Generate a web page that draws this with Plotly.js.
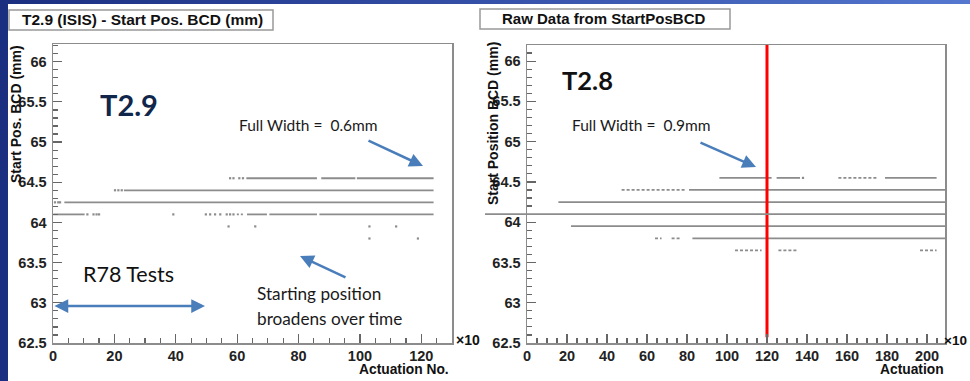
<!DOCTYPE html>
<html><head><meta charset="utf-8">
<script src="https://cdn.plot.ly/plotly-3.0.1.min.js"></script>
<style>
html,body{margin:0;padding:0;width:970px;height:381px;overflow:hidden;background:linear-gradient(to right,#1b2f80 0%,#3550a8 50%,#5577cf 100%);}
#plot{position:absolute;left:8px;top:4px;width:962px;height:377px;background:#fff;}
</style></head><body><div id="plot"></div>
<script>
// ---------- data: left plot (T2.9, Actuation No. x10^3) ----------
const leftSolidY  = [64.1, 64.1, 64.1, 64.1, 64.25, 64.4, 64.55, 64.55, 64.55];
const leftSolidX0 = [0.1, 63.2, 70.5, 86.8, 3.7, 23.1, 63.0, 87.4, 99.0];
const leftSolidX1 = [10.3, 69.7, 86.0, 124.0, 124.0, 124.0, 86.0, 98.5, 124.0];
const leftSparseY  = [64.1];
const leftSparseX0 = [59.9];
const leftSparseX1 = [62.0];
const leftDotX = [11.2, 13.2, 14.2, 15.0, 39.2, 49.8, 51.2, 52.8, 54.5, 56.6, 57.7, 58.8,
                  0.65, 1.7, 2.3, 20.2, 21.3, 22.4, 57.7, 58.8, 60.7, 61.9,
                  57.2, 65.9, 103.1, 111.8, 103.1, 118.9];
const leftDotY = [64.1, 64.1, 64.1, 64.1, 64.1, 64.1, 64.1, 64.1, 64.1, 64.1, 64.1, 64.1,
                  64.25, 64.25, 64.25, 64.4, 64.4, 64.4, 64.55, 64.55, 64.55, 64.55,
                  63.95, 63.95, 63.95, 63.95, 63.8, 63.8];

// ---------- data: right plot (T2.8, Actuation x10^3) ----------
const rightSolidY  = [64.55, 64.55, 64.55, 64.4, 64.25, 63.95, 63.8];
const rightSolidX0 = [96.2, 124.8, 179.0, 81.0, 15.7, 22.0, 82.7];
const rightSolidX1 = [122.3, 136.5, 204.8, 209.0, 209.0, 209.0, 209.0];
const rightLongY  = [64.1];
const rightLongX0 = [-21];
const rightLongX1 = [209];
const rightSparseY  = [64.55, 64.4, 63.8, 63.8, 63.65, 63.65, 63.65];
const rightSparseX0 = [155.7, 47.3, 64.0, 72.3, 104.0, 125.7, 196.5];
const rightSparseX1 = [175.7, 79.8, 67.3, 77.3, 117.3, 134.8, 204.8];
const rightDotX = [138.0];
const rightDotY = [64.55];
const markerX = [120, 120];
const markerY = [62.57, 66.2];

// ---------- helpers ----------
function segs(ys, x0s, x1s) {
  const x = [], y = [];
  for (let i = 0; i < ys.length; i++) { x.push(x0s[i], x1s[i], null); y.push(ys[i], ys[i], null); }
  return {x, y};
}
const PX = v => (v - 8) / 962;
const PY = v => 1 - (v - 4) / 377;
const GRAY = '#8c8c8c';

const ls = segs(leftSolidY, leftSolidX0, leftSolidX1);
const lsp = segs(leftSparseY, leftSparseX0, leftSparseX1);
const rs = segs(rightSolidY, rightSolidX0, rightSolidX1);
const rl = segs(rightLongY, rightLongX0, rightLongX1);
const rsp = segs(rightSparseY, rightSparseX0, rightSparseX1);

const traces = [
  {x: ls.x, y: ls.y, xaxis: 'x', yaxis: 'y', mode: 'lines', line: {color: GRAY, width: 1.8}, hoverinfo: 'skip'},
  {x: lsp.x, y: lsp.y, xaxis: 'x', yaxis: 'y', mode: 'lines', line: {color: GRAY, width: 1.8, dash: '2px,2px'}, hoverinfo: 'skip'},
  {x: leftDotX, y: leftDotY, xaxis: 'x', yaxis: 'y', mode: 'markers', marker: {color: GRAY, size: 2.2, symbol: 'square'}, hoverinfo: 'skip'},
  {x: rs.x, y: rs.y, xaxis: 'x2', yaxis: 'y2', mode: 'lines', line: {color: GRAY, width: 1.8}, hoverinfo: 'skip'},
  {x: rsp.x, y: rsp.y, xaxis: 'x2', yaxis: 'y2', mode: 'lines', line: {color: GRAY, width: 1.8, dash: '3px,2px'}, hoverinfo: 'skip'},
  {x: rightDotX, y: rightDotY, xaxis: 'x2', yaxis: 'y2', mode: 'markers', marker: {color: GRAY, size: 2.2, symbol: 'square'}, hoverinfo: 'skip'},
  {x: rl.x, y: rl.y, xaxis: 'x3', yaxis: 'y2', mode: 'lines', line: {color: GRAY, width: 1.8}, hoverinfo: 'skip'},
  {x: markerX, y: markerY, xaxis: 'x2', yaxis: 'y2', mode: 'lines', line: {color: '#ff0000', width: 3}, hoverinfo: 'skip'}
];

const tickFont = {family: '"Liberation Sans", Arial, sans-serif', size: 14.5, color: '#222', weight: 'bold'};
function xax(domain, range, anchor) {
  return {domain, range, anchor, showline: true, linecolor: GRAY, linewidth: 1.5, mirror: true,
    ticks: 'inside', ticklen: 9, tickwidth: 1.2, tickcolor: '#666', dtick: 20, tick0: 0,
    minor: {ticks: 'inside', ticklen: 5, dtick: 5, tick0: 0, tickcolor: '#666', tickwidth: 1.2},
    showgrid: false, zeroline: false, tickfont: tickFont, fixedrange: true, ticklabelstandoff: -1};
}
function yax(domain, range, anchor) {
  return {domain, range, anchor, showline: true, linecolor: GRAY, linewidth: 1.5, mirror: true,
    ticks: 'inside', ticklen: 9, tickwidth: 1.2, tickcolor: '#666', dtick: 0.5, tick0: 62.5,
    minor: {ticks: 'inside', ticklen: 5, dtick: 0.1, tick0: 62.5, tickcolor: '#666', tickwidth: 1.2},
    showgrid: false, zeroline: false, tickfont: tickFont, fixedrange: true, ticklabelstandoff: 2};
}

const boldF = (s, c) => ({family: '"Liberation Sans", Arial, sans-serif', size: s, color: c || '#111', weight: 'bold'});
const calF = (s, c) => ({family: 'Lato, "Open Sans", sans-serif', size: s, color: c || '#1a1a1a'});
const ARROW = '#4a7ebb';

function txt(x, y, text, font, xa, extra) {
  return Object.assign({xref: 'paper', yref: 'paper', x: PX(x), y: PY(y), text, font,
    xanchor: xa || 'center', yanchor: 'middle', showarrow: false}, extra || {});
}
function arr(hx, hy, tx, ty, extra) {
  return Object.assign({xref: 'paper', yref: 'paper', x: PX(hx), y: PY(hy), ax: tx - hx, ay: ty - hy,
    axref: 'pixel', ayref: 'pixel', text: '', showarrow: true, arrowhead: 2, arrowsize: 1.1,
    arrowwidth: 2.5, arrowcolor: ARROW}, extra || {});
}

const annotations = [
  // title boxes
  txt(142, 20, 'T2.9 (ISIS) - Start Pos. BCD (mm)', boldF(15.5)),
  txt(604, 19, 'Raw Data from StartPosBCD', boldF(15)),
  // axis titles
  txt(16, 114, 'Start Pos. BCD (mm)', boldF(14), 'center', {textangle: -90}),
  txt(493, 124, 'Start Position BCD (mm)', boldF(14), 'center', {textangle: -90}),
  txt(451, 369, 'Actuation No.', boldF(13.8), 'right'),
  txt(946, 369, 'Actuation', boldF(13.8), 'right'),
  txt(454, 340, '×10', boldF(14), 'left'),
  txt(969, 340, '×10', boldF(13.5), 'right'),
  // overlay texts
  txt(98, 104, '<b>T2.9</b>', calF(29, '#10264a'), 'left'),
  txt(560, 80, '<b>T2.8</b>', calF(25.5, '#111'), 'left'),
  txt(237, 125, 'Full Width =  0.6mm', calF(15.5), 'left'),
  txt(570, 125, 'Full Width =  0.9mm', calF(15.5), 'left'),
  txt(81, 274, 'R78 Tests', calF(21.5, '#111'), 'left'),
  txt(255, 293, 'Starting position', calF(17.2), 'left'),
  txt(255, 318, 'broadens over time', calF(17.2), 'left'),
  // arrows
  arr(423, 166, 367, 140),
  arr(756, 167, 699, 142),
  arr(300, 256, 347, 278),
  arr(205, 306, 53, 306, {arrowside: 'end+start', startarrowhead: 2, startarrowsize: 1.1})
];

const shapes = [
  {type: 'rect', xref: 'paper', yref: 'paper', x0: PX(9), x1: PX(273), y0: PY(30), y1: PY(10), line: {color: '#999', width: 1.5}, fillcolor: '#fff', layer: 'below'},
  {type: 'rect', xref: 'paper', yref: 'paper', x0: PX(480), x1: PX(730), y0: PY(29), y1: PY(9), line: {color: '#999', width: 1.5}, fillcolor: '#fff', layer: 'below'}
];

const layout = {
  width: 962, height: 377, margin: {l: 0, r: 0, t: 0, b: 0},
  paper_bgcolor: '#fff', plot_bgcolor: 'rgba(0,0,0,0)', showlegend: false,
  xaxis: xax([PX(53), PX(452)], [0, 130], 'y'),
  yaxis: yax([PY(343), PY(44)], [62.5, 66.22], 'x'),
  xaxis2: xax([PX(527), PX(945)], [0, 209], 'y2'),
  yaxis2: yax([PY(343), PY(45)], [62.5, 66.2], 'x2'),
  xaxis3: {domain: [PX(485), PX(945)], range: [-21, 209], anchor: 'y2', visible: false, fixedrange: true},
  annotations, shapes
};

Plotly.newPlot('plot', traces, layout, {displayModeBar: false, staticPlot: true});
</script></body></html>
